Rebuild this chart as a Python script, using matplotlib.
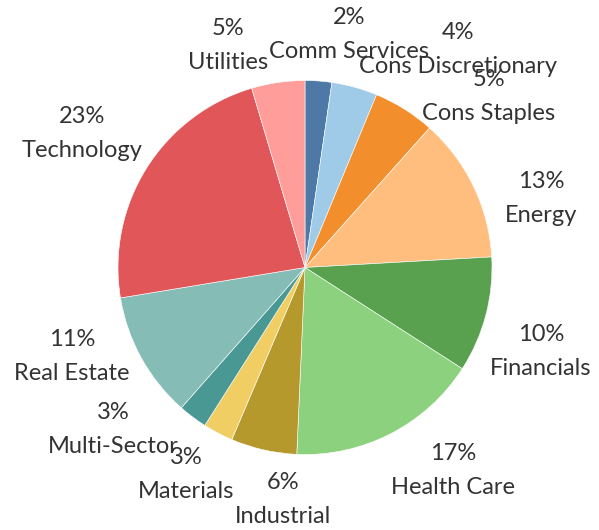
import numpy as np
import matplotlib.pyplot as plt

plt.rcParams['font.family'] = ['Lato', 'DejaVu Sans']

# sector shares, clockwise from 12 o'clock
sectors = ['Comm Services', 'Cons Discretionary', 'Cons Staples', 'Energy',
           'Financials', 'Health Care', 'Industrial', 'Materials',
           'Multi-Sector', 'Real Estate', 'Technology', 'Utilities']
shares = [2.3, 3.95, 5.35, 12.5, 10.0, 16.6, 5.7, 2.6, 2.5, 10.9, 23.0, 4.6]
pct_labels = ['2%', '4%', '5%', '13%', '10%', '17%', '6%', '3%', '3%', '11%', '23%', '5%']
colors = ['#4e79a7', '#a0cbe8', '#f28e2b', '#ffbe7d', '#59a14f', '#8cd17d',
          '#b6992d', '#f1ce63', '#499894', '#86bcb6', '#e15759', '#ff9d9a']

# label centres in pixels (layout of the original)
label_px = [(349, 35), (458, 50), (489, 97), (541, 199), (541, 352), (453, 471),
            (283, 500), (186, 475), (113, 430), (72, 357), (82, 134), (228, 46)]
gap = 17  # half distance between the two label lines, px

W, H = 599, 530
cx, cy, R = 305, 267.5, 187

fig = plt.figure(figsize=(W / 100, H / 100), dpi=100)
ax = fig.add_axes([0, 0, 1, 1])
ax.pie(shares, colors=colors, startangle=90, counterclock=False, radius=1,
       wedgeprops=dict(edgecolor='white', linewidth=0.4))
ax.set_xlim(-cx / R, (W - cx) / R)
ax.set_ylim((cy - H) / R, cy / R)
ax.set_aspect('equal')
ax.axis('off')

for name, pct, (px, py) in zip(sectors, pct_labels, label_px):
    x = (px - cx) / R
    ax.text(x, (cy - py + gap) / R, pct, ha='center', va='center',
            fontsize=17, color='#333333')
    ax.text(x, (cy - py - gap) / R, name, ha='center', va='center',
            fontsize=17, color='#333333')

fig.savefig('out.png', dpi=100)
